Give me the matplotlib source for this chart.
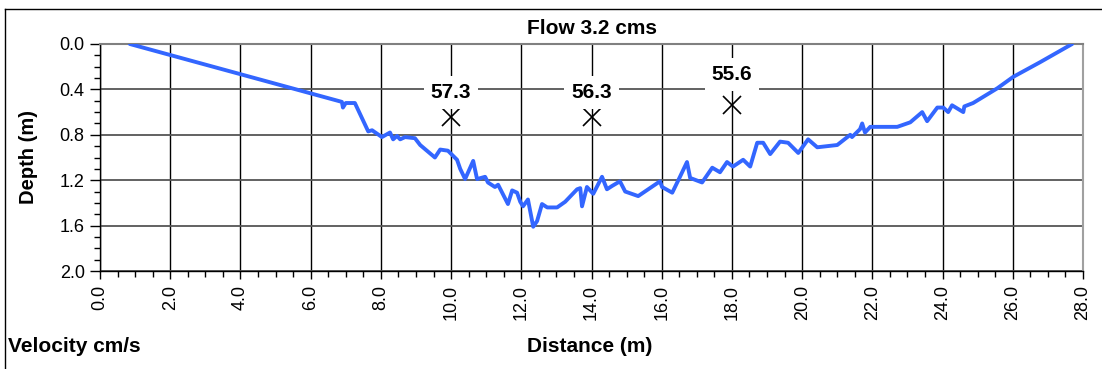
import matplotlib
matplotlib.use("Agg")
import matplotlib.pyplot as plt
from matplotlib.ticker import MultipleLocator, FormatStrFormatter
from matplotlib.lines import Line2D

plt.rcParams["font.family"] = ["Liberation Sans", "DejaVu Sans"]

# ── channel cross-section (distance m, depth m) ──
distance = [0.85, 6.89, 6.92, 7.00, 7.26, 7.64, 7.75, 8.03, 8.26, 8.35, 8.46,
            8.55, 8.69, 8.97, 9.12, 9.54, 9.69, 9.91, 10.17, 10.26, 10.40,
            10.63, 10.74, 10.97, 11.05, 11.25, 11.34, 11.62, 11.74, 11.88,
            11.97, 12.05, 12.19, 12.34, 12.45, 12.59, 12.74, 13.02, 13.25,
            13.59, 13.68, 13.73, 13.87, 14.05, 14.30, 14.44, 14.59, 14.81,
            14.96, 15.33, 15.95, 16.01, 16.30, 16.52, 16.72, 16.81, 17.15,
            17.44, 17.66, 17.86, 18.03, 18.32, 18.52, 18.72, 18.89, 19.09,
            19.37, 19.60, 19.89, 20.17, 20.43, 21.00, 21.37, 21.42, 21.65,
            21.71, 21.79, 21.94, 22.71, 23.08, 23.42, 23.56, 23.85, 24.02,
            24.16, 24.27, 24.59, 24.62, 24.87, 25.56, 26.01, 26.78, 27.69]
depth = [0.00, 0.51, 0.56, 0.52, 0.52, 0.77, 0.76, 0.82, 0.78, 0.84, 0.81,
         0.84, 0.82, 0.83, 0.89, 1.00, 0.93, 0.94, 1.02, 1.10, 1.19,
         1.03, 1.19, 1.17, 1.22, 1.26, 1.24, 1.41, 1.29, 1.31,
         1.39, 1.43, 1.37, 1.61, 1.56, 1.41, 1.44, 1.44, 1.39,
         1.28, 1.27, 1.43, 1.26, 1.32, 1.17, 1.28, 1.25, 1.21,
         1.30, 1.34, 1.21, 1.26, 1.31, 1.17, 1.04, 1.18, 1.22,
         1.09, 1.13, 1.04, 1.08, 1.02, 1.08, 0.87, 0.87, 0.97,
         0.86, 0.87, 0.96, 0.84, 0.91, 0.89, 0.80, 0.82, 0.75,
         0.70, 0.78, 0.73, 0.73, 0.69, 0.60, 0.68, 0.56, 0.56,
         0.60, 0.54, 0.60, 0.55, 0.52, 0.39, 0.29, 0.16, 0.00]

# ── velocity measurement points ──
vel_x = [10.0, 14.0, 18.0]
vel_depth = [0.64, 0.64, 0.54]
vel_label_depth = [0.43, 0.43, 0.27]
vel_values = ["57.3", "56.3", "55.6"]

W, H = 1102, 369
fig = plt.figure(figsize=(W / 100, H / 100), dpi=100)
ax = fig.add_axes([100 / W, 1 - 271 / H, 983 / W, 227 / H])

# outer chart frame
fig.add_artist(Line2D([5 / W, 5 / W], [0, 1 - 9 / H], transform=fig.transFigure,
                      color="black", lw=1.0))
fig.add_artist(Line2D([5 / W, 1], [1 - 9 / H, 1 - 9 / H], transform=fig.transFigure,
                      color="black", lw=1.0))

ax.plot(distance, depth, color="#3366ff", lw=2.8, zorder=3,
        solid_joinstyle="round", solid_capstyle="round")
ax.plot(vel_x, vel_depth, ls="none", marker="x", ms=13, mew=1.2,
        color="black", zorder=4)
for x, d, s in zip(vel_x, vel_label_depth, vel_values):
    ax.text(x, d, s, ha="center", va="center", fontsize=15, fontweight="bold",
            zorder=5, bbox=dict(facecolor="white", edgecolor="none", pad=5))

ax.set_xlim(0, 28)
ax.set_ylim(2.0, 0.0)
ax.xaxis.set_major_locator(MultipleLocator(2.0))
ax.xaxis.set_minor_locator(MultipleLocator(0.5))
ax.yaxis.set_major_locator(MultipleLocator(0.4))
ax.yaxis.set_minor_locator(MultipleLocator(0.1))
ax.xaxis.set_major_formatter(FormatStrFormatter("%.1f"))
ax.yaxis.set_major_formatter(FormatStrFormatter("%.1f"))
ax.tick_params(axis="x", which="major", length=6, width=1, labelsize=13,
               labelrotation=90, pad=4)
ax.tick_params(axis="y", which="major", length=7, width=1, labelsize=13, pad=4)
ax.tick_params(which="minor", length=4, width=1)

ax.grid(axis="x", which="major", color="black", lw=1.0, zorder=1)
ax.grid(axis="y", which="major", color="#555555", lw=1.3, zorder=1)
ax.set_axisbelow(True)

for side in ["left", "bottom"]:
    ax.spines[side].set_color("black")
    ax.spines[side].set_linewidth(1.0)
ax.spines["top"].set_color("#808080")
ax.spines["top"].set_linewidth(1.5)
ax.spines["right"].set_color("#a0a0a0")
ax.spines["right"].set_linewidth(1.5)

fig.text(592 / W, 1 - 28 / H, "Flow 3.2 cms", ha="center", va="center",
         fontsize=15, fontweight="bold")
fig.text(590 / W, 1 - 347 / H, "Distance (m)", ha="center", va="center",
         fontsize=15, fontweight="bold")
fig.text(8 / W, 1 - 347 / H, "Velocity cm/s", ha="left", va="center",
         fontsize=15, fontweight="bold")
fig.text(28 / W, 1 - 157 / H, "Depth (m)", ha="center", va="center",
         rotation=90, fontsize=14.5, fontweight="bold")

fig.savefig("out.png", dpi=100)
